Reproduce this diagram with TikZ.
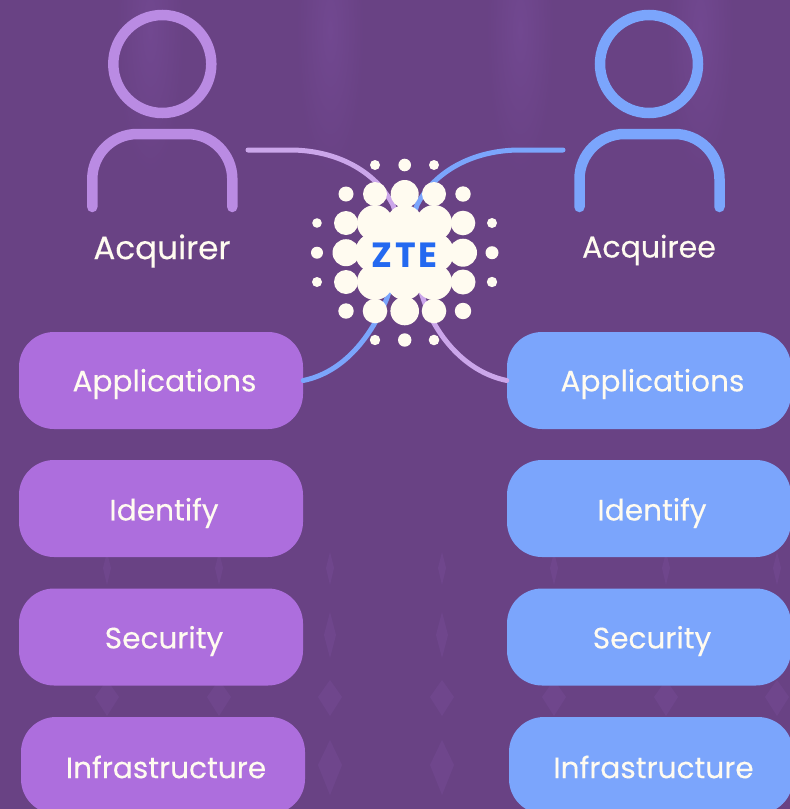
\documentclass[tikz,border=0pt]{standalone}
\usepackage{fontspec}
\setmainfont{Poppins}[FakeBold=0.25]
\newfontfamily\ztefont{Poppins}[LetterSpace=8]
\usepackage{xcolor}
\usetikzlibrary{positioning, shapes.geometric, fadings}
\definecolor{bgpurple}{HTML}{694284}
\definecolor{bgstripe}{HTML}{744A94}
\definecolor{boxpurple}{HTML}{AD6EDD}
\definecolor{boxblue}{HTML}{7BA5FC}
\definecolor{iconpurple}{HTML}{BA8BE3}
\definecolor{linkpurple}{HTML}{CBA6EA}
\definecolor{dotcream}{HTML}{FFFBF0}
\definecolor{ztetext}{HTML}{2469F0}
\tikzfading[name=softstripe, inner color=transparent!20, outer color=transparent!100]

\begin{document}
\begin{tikzpicture}[x=1pt, y=-1pt,
    layerbox/.style={rectangle, rounded corners=35pt, minimum width=284pt, minimum height=97pt, inner sep=0pt},
    layertext/.style={inner sep=0pt, text=dotcream, font=\fontsize{29.6}{32}\selectfont},
    personname/.style={inner sep=0pt, text=dotcream},
    figureline/.style={line width=10.5pt, line cap=round},
    linkline/.style={line width=5pt, line cap=round},
    ripple/.style={fill=bgstripe, draw=none, opacity=0.55}]

        \clip (0,0) rectangle (790,809);
        \fill[bgpurple] (0,0) rectangle (790,809);

        % background
        \foreach \xa in {150,330,520,700}
            \fill[bgstripe, path fading=softstripe] (\xa-35,-120) rectangle (\xa+35,180);
        \foreach \xa in {107,219,330,442,554,666,777}
            \fill[ripple] (\xa,680) -- (\xa+12,697) -- (\xa,716) -- (\xa-12,697) -- cycle;
        \foreach \xa in {330,442} {
            \fill[ripple] (\xa,612) -- (\xa+6,635) -- (\xa,658) -- (\xa-6,635) -- cycle;
            \fill[ripple] (\xa,740) -- (\xa+12,765) -- (\xa,795) -- (\xa-12,765) -- cycle;
        }
        \foreach \xa in {107,219,330,442,554,666,777}
            \fill[ripple] (\xa,552) -- (\xa+4,568) -- (\xa,585) -- (\xa-4,568) -- cycle;

        % boxes
        \node[layerbox, fill=boxpurple] (appsL) at (161,380.5) {};
        \node[layerbox, fill=boxpurple] (idL) at (161,508.5) {};
        \node[layerbox, fill=boxpurple] (secL) at (161,637) {};
        \node[layerbox, fill=boxpurple] (infraL) at (163,765.5) {};
        \node[layerbox, fill=boxblue] (appsR) at (649,380.5) {};
        \node[layerbox, fill=boxblue] (idR) at (649,508.5) {};
        \node[layerbox, fill=boxblue] (secR) at (649,637) {};
        \node[layerbox, fill=boxblue] (infraR) at (651,765.5) {};

        \foreach \boxname/\xa/\ya/\word in
        {appsL/164.5/384/Applications, idL/164/513/Identify, secL/164/641/Security, infraL/166/767/Infrastructure,
         appsR/652.5/384/Applications, idR/652/513/Identify, secR/652/641/Security, infraR/653.5/767/Infrastructure}
            \node[layertext] (\boxname text) at (\xa,\ya) {\word};

        % people
        \draw[figureline, iconpurple] (162.3,64) circle (49);
        \draw[figureline, iconpurple] (92.3,207) -- (92.3,179) arc (180:270:45) -- (187.3,134) arc (270:360:45) -- (232.3,207);
        \draw[figureline, boxblue] (649,64) circle (49);
        \draw[figureline, boxblue] (579.5,207) -- (579.5,179) arc (180:270:45) -- (674.5,134) arc (270:360:45) -- (719.5,207);
        \node[personname, font=\fontsize{32.6}{35}\selectfont] (acquirer) at (162,251) {Acquirer};
        \node[personname, font=\fontsize{30}{33}\selectfont] (acquiree) at (649,250) {Acquiree};

        % links run under the dots
        \coordinate (handL) at (248,150);
        \coordinate (handR) at (563,150);
        \draw[linkline, linkpurple] (handL) -- (290,150) .. controls (335,150) and (375,170) .. (393,205)
            -- (423,298) .. controls (435,335) and (465,372) .. (appsR.west);
        \draw[linkline, boxblue] (handR) -- (520,150) .. controls (475,150) and (435,170) .. (417,205)
            -- (387,298) .. controls (372,335) and (345,372) .. (appsL.east);

        % dots
        \fill[dotcream] (375,223) rectangle (434,282);
        \foreach \xa/\ya/\ra in
        {375/165/5, 404.7/165/6.3, 434/165/5,
         346/194/7.5, 375/194/12, 404.7/194/14, 434/194/12, 463/194/7.7,
         317/223/4.8, 346/223/12, 375/223/18, 404.7/223/18, 434/223/18, 463/223/12.3, 492/223/5,
         317/252.7/6, 346/252.7/13.5, 375/252.7/20, 404.7/252.7/22, 434/252.7/20, 463/252.7/14, 492/252.7/6.5,
         317/282/5, 346/282/12, 375/282/18, 404.7/282/18, 434/282/18, 463/282/12.5, 492/282/5.2,
         346/311/7.7, 375/311/12.3, 404.7/311/14.3, 434/311/12.3, 463/311/8.2,
         375/340/5.2, 404.7/340/6.7, 434/340/5.3}
            \fill[dotcream] (\xa,\ya) circle (\ra);

        \node[inner sep=0pt, text=ztetext, font=\ztefont\fontsize{35}{37}\selectfont\bfseries] (zte) at (404.5,255) {ZTE};
\end{tikzpicture}
\end{document}
